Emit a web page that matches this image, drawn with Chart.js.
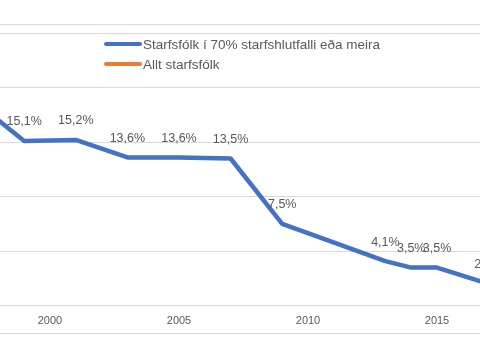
<!DOCTYPE html>
<html>
<head>
<meta charset="utf-8">
<script src="https://cdn.jsdelivr.net/npm/chart.js@4"></script>
<style>
    html, body { margin: 0; padding: 0; background: #fff; overflow: hidden; }
    #wrap { position: absolute; left: -40px; top: 0; width: 560px; height: 360px; }
</style>
</head>
<body>
<div id="wrap"><canvas id="chart"></canvas></div>
<script>
const years = [1997, 1999, 2001, 2003, 2005, 2007, 2009, 2013, 2014, 2015, 2017];
const fullTime = [18.9, 15.1, 15.2, 13.6, 13.6, 13.5, 7.5, 4.1, 3.5, 3.5, 2.0];
const allStaff = [];
const seriesNames = ['Starfsfólk í 70% starfshlutfalli eða meira', 'Allt starfsfólk'];
const xTicks = [2000, 2005, 2010, 2015];

const colors = {
    blue: '#4472C4',
    orange: '#ED7D31',
    text: '#595959',
    grid: '#D9D9D9',
};
const FONT = '"Liberation Sans", Arial, sans-serif';

function pct(v) {
    return v.toFixed(1).replace('.', ',') + '%';
}

// frame lines, overlaid legend and value labels
const excelLook = {
    id: 'excelLook',
    beforeDraw(chart) {
        const { ctx, width } = chart;
        ctx.save();
        ctx.strokeStyle = colors.grid;
        ctx.lineWidth = 1;
        [24.5, 333.5].forEach(y => {
            ctx.beginPath();
            ctx.moveTo(0, y);
            ctx.lineTo(width, y);
            ctx.stroke();
        });
        ctx.restore();
    },
    afterDraw(chart) {
        const { ctx } = chart;
        ctx.save();
        // legend
        ctx.font = '13.5px ' + FONT;
        ctx.textBaseline = 'middle';
        chart.data.datasets.forEach((ds, i) => {
            const y = 44 + i * 20;
            ctx.strokeStyle = ds.borderColor;
            ctx.lineWidth = 4;
            ctx.lineCap = 'round';
            ctx.beginPath();
            ctx.moveTo(146, y);
            ctx.lineTo(180, y);
            ctx.stroke();
            ctx.fillStyle = colors.text;
            ctx.textAlign = 'left';
            ctx.fillText(ds.label, 183, y + 1);
        });
        // data labels
        ctx.font = '12.5px ' + FONT;
        ctx.textAlign = 'center';
        ctx.fillStyle = colors.text;
        const meta = chart.getDatasetMeta(0);
        meta.data.forEach((pt, i) => {
            ctx.fillText(pct(fullTime[i]), pt.x, pt.y - 19);
        });
        ctx.restore();
    },
};

new Chart(document.getElementById('chart'), {
    type: 'line',
    data: {
        datasets: [
            {
                label: seriesNames[0],
                data: years.map((y, i) => ({ x: y, y: fullTime[i] })),
                borderColor: colors.blue,
                borderWidth: 4.5,
                borderJoinStyle: 'round',
                pointRadius: 0,
                tension: 0,
            },
            {
                label: seriesNames[1],
                data: allStaff,
                borderColor: colors.orange,
                borderWidth: 4,
                pointRadius: 0,
            },
        ],
    },
    options: {
        responsive: true,
        maintainAspectRatio: false,
        animation: false,
        layout: { padding: { top: 33, bottom: 23, left: 0, right: 0 } },
        plugins: {
            legend: { display: false },
            tooltip: { enabled: false },
        },
        scales: {
            x: {
                type: 'linear',
                min: 1996.512,
                max: 2018.217,
                afterBuildTicks: s => { s.ticks = xTicks.map(v => ({ value: v })); },
                ticks: {
                    color: colors.text,
                    font: { family: FONT, size: 11 },
                    padding: 9,
                    maxRotation: 0,
                    autoSkip: false,
                    callback: v => String(v),
                },
                grid: { display: false, drawTicks: false },
                border: { display: false },
            },
            y: {
                min: 0,
                max: 25,
                ticks: { display: false, stepSize: 5 },
                grid: { color: colors.grid, drawTicks: false },
                border: { display: false },
            },
        },
    },
    plugins: [excelLook],
});
</script>
</body>
</html>
